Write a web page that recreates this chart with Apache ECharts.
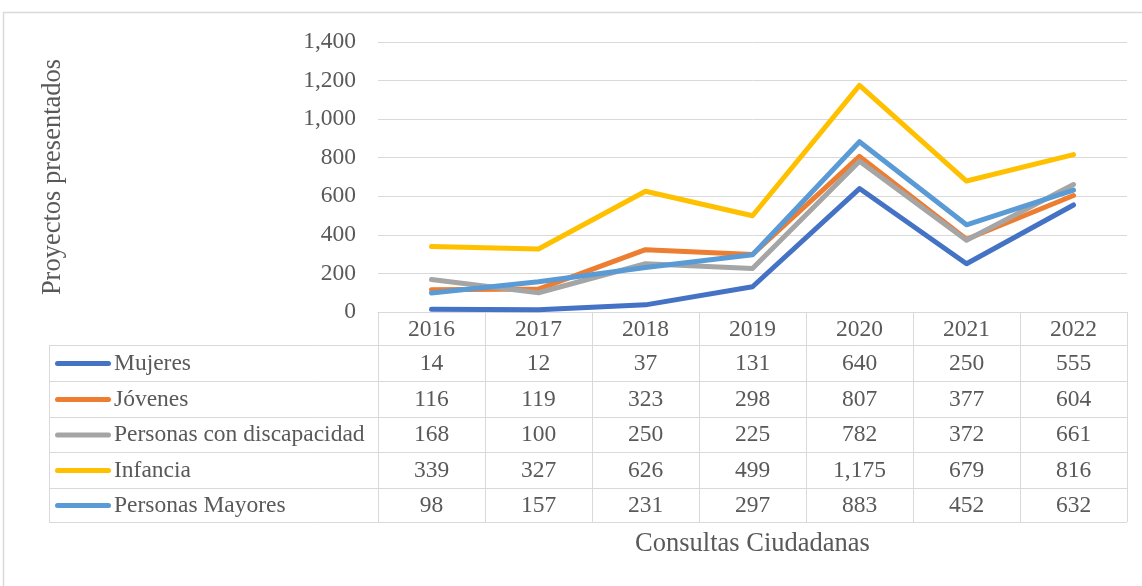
<!DOCTYPE html>
<html>
<head>
<meta charset="utf-8">
<script src="https://cdn.jsdelivr.net/npm/echarts@6/dist/echarts.min.js"></script>
<style>
html,body{margin:0;padding:0;background:#fff;}
#c{width:1142px;height:586px;}
</style>
</head>
<body>
<div id="c"></div>
<script>
// ---- data ----
const categories = ['2016', '2017', '2018', '2019', '2020', '2021', '2022'];
const seriesNames = ['Mujeres', 'Jóvenes', 'Personas con discapacidad', 'Infancia', 'Personas Mayores'];
const mujeres = [14, 12, 37, 131, 640, 250, 555];
const jovenes = [116, 119, 323, 298, 807, 377, 604];
const discapacidad = [168, 100, 250, 225, 782, 372, 661];
const infancia = [339, 327, 626, 499, 1175, 679, 816];
const mayores = [98, 157, 231, 297, 883, 452, 632];
const yAxisTitle = 'Proyectos presentados';
const xAxisTitle = 'Consultas Ciudadanas';

// ---- styles ----
const seriesData = [mujeres, jovenes, discapacidad, infancia, mayores];
const colors = ['#4472C4', '#ED7D31', '#A5A5A5', '#FFC000', '#5B9BD5'];
const FONT = "'Liberation Serif', 'Times New Roman', serif";
const TXT = '#595959';
const GRID = '#D9D9D9';
const FS = 23.5;
const FT = 26.5;
const fmt = v => Number(v).toLocaleString('en-US');

const chart = echarts.init(document.getElementById('c'));
chart.setOption({
  animation: false,
  backgroundColor: '#ffffff',
  textStyle: { fontFamily: FONT },
  grid: { left: 378, top: 42, width: 749, height: 270 },
  xAxis: {
    type: 'category',
    data: categories,
    boundaryGap: true,
    axisLine: { show: true, lineStyle: { color: GRID, width: 1 } },
    axisTick: { show: true, length: 210, interval: 0, lineStyle: { color: GRID, width: 1 } },
    axisLabel: { color: TXT, fontSize: FS, fontFamily: FONT, margin: 6, interval: 0 },
    name: xAxisTitle,
    nameLocation: 'middle',
    nameGap: 219,
    nameTextStyle: { color: TXT, fontSize: FT, fontFamily: FONT }
  },
  yAxis: {
    type: 'value',
    min: 0, max: 1400, interval: 200,
    axisLine: { show: false },
    axisTick: { show: false },
    axisLabel: { color: TXT, fontSize: FS, fontFamily: FONT, margin: 22, formatter: fmt },
    splitLine: { lineStyle: { color: GRID, width: 1 } },
    name: yAxisTitle,
    nameLocation: 'middle',
    nameGap: 311,
    nameTextStyle: { color: TXT, fontSize: FT, fontFamily: FONT }
  },
  series: seriesNames.map((n, i) => ({
    type: 'line',
    name: n,
    data: seriesData[i],
    symbol: 'none',
    z: 2 + i,
    lineStyle: { width: 5, color: colors[i], cap: 'round', join: 'round' },
    itemStyle: { color: colors[i] }
  }))
});

// ---- data table built from the axis scale ----
const xs = categories.map((c, i) => chart.convertToPixel({ xAxisIndex: 0 }, i));
const rowLines = [345, 381, 417, 452, 488, 522];
const tableLeft = 49, plotRight = 1127;
const g = [];
g.push({ type: 'rect', shape: { x: 3.5, y: 12.5, width: 1300, height: 800 },
  style: { fill: 'none', stroke: GRID, lineWidth: 1.5 }, silent: true });
rowLines.forEach(y => g.push({ type: 'line', shape: { x1: tableLeft, y1: y + 0.5, x2: plotRight, y2: y + 0.5 },
  style: { stroke: GRID, lineWidth: 1 }, silent: true }));
g.push({ type: 'line', shape: { x1: tableLeft + 0.5, y1: rowLines[0], x2: tableLeft + 0.5, y2: rowLines[5] + 0.5 },
  style: { stroke: GRID, lineWidth: 1 }, silent: true });
seriesNames.forEach((n, r) => {
  const cy = (rowLines[r] + rowLines[r + 1]) / 2 + 0.5;
  g.push({ type: 'line', shape: { x1: 57.5, y1: cy, x2: 108.5, y2: cy },
    style: { stroke: colors[r], lineWidth: 5, lineCap: 'round' }, silent: true });
  g.push({ type: 'text', x: 114, y: cy, style: { text: n, fill: TXT, font: FS + 'px ' + FONT,
    textAlign: 'left', textVerticalAlign: 'middle' }, silent: true });
  seriesData[r].forEach((v, i) => {
    g.push({ type: 'text', x: xs[i], y: cy, style: { text: fmt(v), fill: TXT, font: FS + 'px ' + FONT,
      textAlign: 'center', textVerticalAlign: 'middle' }, silent: true });
  });
});
chart.setOption({ graphic: g });
</script>
</body>
</html>
